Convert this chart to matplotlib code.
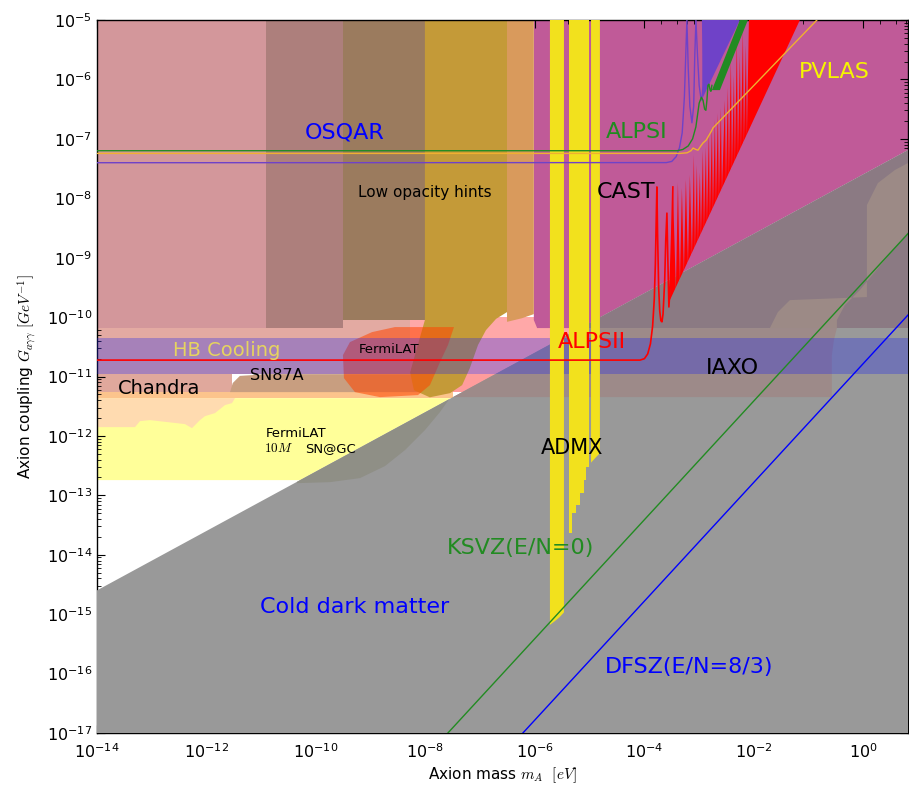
import numpy as np
import matplotlib
matplotlib.use('Agg')
import matplotlib.pyplot as plt
from matplotlib.ticker import FixedLocator, NullFormatter, LogLocator

plt.rcParams['mathtext.fontset'] = 'cm'

# all values are log10(mass/eV) and log10(g/GeV^-1)
X_MAX = 0.815

# cold dark matter line (upper edge of grey region)
cdm_lm = [-14.0, X_MAX]
cdm_lg = [-14.6, -7.19]

# QCD axion model lines
ksvz_lm = [-7.59, X_MAX]
ksvz_lg = [-17.0, -8.595]
dfsz_lm = [-6.22, X_MAX]
dfsz_lg = [-17.0, -9.965]

# left vertical bands (top area): lm_left, lm_right, lg_bottom, colour
left_bands = [
    (-14.0, -10.91, -10.185, '#d3979b'),
    (-10.91, -9.51, -10.185, '#ad7f7c'),
    (-9.51, -8.01, -10.05, '#9b7b5e'),
]
tan_lm = [-6.51, -6.02, -6.02, -6.24, -6.51]
tan_lg = [-5.0, -5.0, -9.95, -10.02, -10.08]
gold_lm = [-8.01, -6.51, -6.51, -6.71, -6.895, -7.04, -7.19, -7.33, -7.55, -7.92, -8.21, -8.28, -8.14, -8.01]
gold_lg = [-5.0, -5.0, -9.916, -10.03, -10.22, -10.47, -10.86, -11.145, -11.28, -11.35, -11.23, -10.93, -10.47, -10.05]

# CAST helioscope (magenta)
cast_lm = [-6.02, X_MAX, X_MAX, -5.17, -5.96, -6.02]
cast_lg = [-5.0, -5.0, -7.19, -10.185, -10.185, -10.05]

# horizontal bands: lm_left, lm_right, lg_top, lg_bottom, colour
hbands = [
    (-14.0, -8.28, -10.05, -10.96, '#e3aaa2'),
    (-8.28, X_MAX, -10.0, -10.96, '#ffa8a8'),
    (-14.0, -11.53, -10.96, -11.263, '#e0a89c'),
    (-7.74, X_MAX, -10.96, -11.263, '#ff9c9c'),
    (-14.0, -7.5, -11.263, -11.364, '#fcc48c'),
]
sn87a_lm = [-11.57, -11.52, -11.39, -11.17, -10.93, -7.74, -7.74]
sn87a_lg = [-11.263, -11.11, -10.99, -10.977, -10.96, -10.96, -11.263]

# FermiLAT SN@GC (yellow) and its peach neighbour
sngc_lg = [-11.364, -12.744]
peach_lm = [-14.0, -11.479, -11.534, -11.662, -11.845, -12.027, -12.119, -12.265, -12.393, -13.032, -13.215, -13.306, -14.0]
peach_lg = [-11.364, -11.364, -11.448, -11.481, -11.616, -11.667, -11.734, -11.869, -11.801, -11.734, -11.751, -11.852, -11.852]

# FermiLAT blob
blob_lm = [-8.977, -8.557, -7.479, -7.589, -7.735, -7.918, -8.137, -8.831, -9.288, -9.489, -9.507, -9.379]
blob_lg = [-10.253, -10.168, -10.168, -10.471, -10.758, -11.145, -11.313, -11.347, -11.263, -11.027, -10.64, -10.421]

# tints seen on top of the grey region
brown_lm = [-14.0, -0.484, -0.539, -0.576, -0.576, -14.0]
brown_lg = [-10.185, -10.185, -10.387, -10.64, -11.347, -11.347]
r2_lm = [-1.708, -1.562, -1.342, 0.064, 0.064, 0.265, 0.575, X_MAX, X_MAX, -0.064, -0.338, -0.484, -0.484]
r2_lg = [-10.185, -9.916, -9.714, -9.663, -8.114, -7.744, -7.525, -7.407, -8.569, -9.545, -9.798, -10.05, -10.185]
shade_lm = [-10.347, -9.744, -9.196, -8.74, -8.374, -8.009, -7.735, -7.553, -10.347]
shade_lg = [-12.795, -12.778, -12.71, -12.508, -12.239, -11.902, -11.599, -11.364, -11.364]

# IAXO band
iaxo_lg = [-10.354, -10.96]

# ADMX haloscope strips
admx1_lm = [-5.726, -5.47, -5.47, -5.55, -5.64, -5.726]
admx1_lg = [-5.0, -5.0, -14.97, -15.05, -15.12, -15.18]
admx2_lm = [-5.379, -5.014, -5.014, -5.06, -5.06, -5.11, -5.11, -5.18, -5.18, -5.25, -5.25, -5.32, -5.32, -5.379]
admx2_lg = [-5.0, -5.0, -12.525, -12.525, -12.744, -12.744, -12.963, -12.963, -13.165, -13.165, -13.30, -13.30, -13.636, -13.636]
admx3_lm = [-4.975, -4.813, -4.813, -4.90, -4.975]
admx3_lg = [-5.0, -5.0, -12.29, -12.374, -12.45]

# ALPSII line running into the first CAST oscillations
alps2_lm = [-14, -4.08, -4.00, -3.94, -3.89, -3.85, -3.82, -3.80, -3.785, -3.772, -3.76, -3.74, -3.72,
            -3.70, -3.68, -3.66, -3.63, -3.61, -3.589, -3.575, -3.553, -3.53, -3.50, -3.48]
alps2_lg = [-10.724, -10.724, -10.70, -10.62, -10.45, -10.15, -9.7, -9.1, -8.4, -7.81, -8.6, -9.5, -9.9,
            -10.06, -10.08, -9.95, -9.4, -8.7, -8.25, -8.9, -9.83, -9.5, -8.6, -7.81]

# CAST vacuum oscillation region (red)
castosc_lm = [-3.480, -3.425, -3.388, -3.352, -3.315, -3.279, -3.242, -3.205, -3.169, -3.132, -3.096, -3.078,
              -3.041, -3.023, -2.986, -2.968, -2.932, -2.913, -2.877, -2.858, -2.822, -2.804, -2.767, -2.749,
              -2.712, -2.694, -2.658, -2.639, -2.603, -2.584, -2.530, -2.511, -2.475, -2.457, -2.420, -2.402,
              -2.365, -2.347, -2.311, -2.292, -2.256, -2.237, -2.201, -2.183, -2.146, -2.128, -2.091, -1.160, -3.534]
castosc_lg = [-7.81, -9.55, -7.74, -9.41, -7.83, -9.26, -7.69, -9.12, -7.61, -8.97, -7.27, -8.87,
              -7.44, -8.75, -7.56, -8.65, -7.19, -8.54, -7.14, -8.43, -6.90, -8.32, -6.80, -8.22,
              -6.68, -8.10, -6.57, -8.00, -6.48, -7.88, -6.35, -7.74, -6.14, -7.63, -5.67, -7.53,
              -5.93, -7.41, -5.34, -7.31, -5.59, -7.19, -5.17, -7.09, -5.42, -6.97, -5.0, -5.0, -9.714]

# OSQAR
osqar_lm = [-14, -3.60, -3.50, -3.42, -3.36, -3.31, -3.27, -3.245, -3.224, -3.20, -3.17, -3.132, -3.10,
            -3.08, -3.059, -3.03, -3.00, -2.97, -2.95, -2.93, -2.915]
osqar_lg = [-7.402, -7.40, -7.38, -7.30, -7.15, -6.90, -6.3, -5.6, -5.0, -5.8, -6.45, -6.73, -6.45,
            -5.6, -5.0, -5.6, -6.1, -6.3, -6.35, -6.1, -5.0]
osqar_fill_lm = [-2.95, -2.93, -2.256]
osqar_fill_lg = [-5.0, -6.30, -5.0]

# ALPSI
alps1_lm = [-14, -3.40, -3.30, -3.20, -3.12, -3.06, -3.03, -3.00, -2.96, -2.93, -2.90, -2.877, -2.858,
            -2.84, -2.822, -2.80, -2.785, -2.767]
alps1_lg = [-7.20, -7.20, -7.18, -7.12, -7.00, -6.80, -6.60, -6.40, -6.30, -6.35, -6.50, -6.52, -6.35,
            -6.10, -6.08, -6.18, -6.20, -6.10]
alps1_fill_lm = [-2.767, -2.256, -2.110, -2.621]
alps1_fill_lg = [-6.18, -5.0, -5.0, -6.18]

# PVLAS
pvlas_lm = [-14, -3.35, -3.22, -3.15, -3.11, -3.06, -3.02, -2.97, -2.93, -2.87, -2.82, -2.77, -2.749, -0.849]
pvlas_lg = [-7.245, -7.245, -7.235, -7.20, -7.155, -7.18, -7.19, -7.12, -7.07, -7.02, -6.94, -6.86, -6.818, -5.0]

# labels: text, lm, lg, size, colour
labels = [
    ('OSQAR', -9.47, -6.886, 16, '#0000ff'),
    ('ALPSI', -4.137, -6.886, 16, '#1f8b1f'),
    ('PVLAS', -0.539, -5.875, 16, '#f5f500'),
    ('CAST', -4.338, -7.896, 16, 'black'),
    ('Low opacity hints', -8.01, -7.91, 11, 'black'),
    ('HB Cooling', -11.63, -10.556, 14, '#e6d45f'),
    ('FermiLAT', -8.667, -10.54, 9.5, 'black'),
    ('ALPSII', -4.959, -10.42, 16, '#ff0000'),
    ('SN87A', -10.71, -10.976, 11.5, 'black'),
    ('Chandra', -12.87, -11.195, 14, 'black'),
    ('IAXO', -2.383, -10.859, 16, 'black'),
    ('FermiLAT', -10.37, -11.953, 9.5, 'black'),
    ('$10M$', -10.69, -12.205, 9.5, 'black'),
    ('SN@GC', -9.74, -12.205, 9.5, 'black'),
    ('ADMX', -5.324, -12.205, 15, 'black'),
    ('KSVZ(E/N=0)', -6.256, -13.889, 16, '#228b22'),
    ('Cold dark matter', -9.288, -14.88, 16, '#0000ff'),
    ('DFSZ(E/N=8/3)', -3.187, -15.89, 16, '#0000ff'),
]


def pw(v):
    return 10.0 ** np.asarray(v, dtype=float)


fig = plt.figure(figsize=(9.09, 7.93), dpi=100)
ax = fig.add_axes([97 / 909, 1 - 733 / 793, 811 / 909, 713 / 793])
ax.set_xscale('log')
ax.set_yscale('log')


def region(lm, lg, color, z, alpha=1.0, clip=None):
    p = ax.fill(pw(lm), pw(lg), color=color, lw=0, zorder=z, alpha=alpha)[0]
    if clip is not None:
        p.set_clip_path(clip)
    return p


def rect(l0, l1, g0, g1, color, z, alpha=1.0, clip=None):
    return region([l0, l1, l1, l0], [g0, g0, g1, g1], color, z, alpha, clip)


# yellow SN@GC bounded by the CDM line
slope = (cdm_lg[1] - cdm_lg[0]) / (cdm_lm[1] - cdm_lm[0])
x_top = cdm_lm[0] + (sngc_lg[0] - cdm_lg[0]) / slope
x_bot = cdm_lm[0] + (sngc_lg[1] - cdm_lg[0]) / slope
region([-14, x_top, x_bot, -14], [sngc_lg[0], sngc_lg[0], sngc_lg[1], sngc_lg[1]], '#ffff99', 1.0)
region(peach_lm, peach_lg, '#ffdbb0', 1.1)

for l0, l1, g0, g1, c in hbands:
    rect(l0, l1, g0, g1, c, 1.2)
region(sn87a_lm, sn87a_lg, '#c89e80', 1.3)

region(cast_lm, cast_lg, '#c05a98', 1.5)
for l0, l1, gb, c in left_bands:
    rect(l0, l1, -5.0, gb, c, 2.0)
region(tan_lm, tan_lg, '#d99a5c', 2.0)
region(gold_lm, gold_lg, '#c49a38', 2.1)
region(blob_lm, blob_lg, '#ff4500', 2.2, alpha=0.55)

# cold dark matter
grey = region([cdm_lm[0], cdm_lm[1], cdm_lm[1], cdm_lm[0]], [cdm_lg[0], cdm_lg[1], -17.5, -17.5], '#999999', 3.0)
rect(-14, X_MAX, -5.0, -10.185, '#8b7a83', 3.1, clip=grey)
region(brown_lm, brown_lg, '#9d8a89', 3.1, clip=grey)
region(r2_lm, r2_lg, '#9c8a86', 3.2, clip=grey)
region(shade_lm, shade_lg, '#8f8f86', 3.2, clip=grey)

# IAXO band
rect(-14, X_MAX, iaxo_lg[0], iaxo_lg[1], '#1b23f0', 3.5, alpha=0.3)

for lm, lg in [(admx1_lm, admx1_lg), (admx2_lm, admx2_lg), (admx3_lm, admx3_lg)]:
    region(lm, lg, '#f2e11d', 4.0)

ax.plot(pw(ksvz_lm), pw(ksvz_lg), color='#228b22', lw=1.0, zorder=4.5)
ax.plot(pw(dfsz_lm), pw(dfsz_lg), color='#0000ff', lw=1.0, zorder=4.5)

region(castosc_lm, castosc_lg, '#ff0000', 5.0)
ax.plot(pw(alps2_lm), pw(alps2_lg), color='#ff0000', lw=1.2, zorder=5.0)

region(osqar_fill_lm, osqar_fill_lg, '#6f42c8', 5.1)
ax.plot(pw(osqar_lm), pw(osqar_lg), color='#6f42c8', lw=1.0, zorder=5.1)
region(alps1_fill_lm, alps1_fill_lg, '#228b22', 5.2)
ax.plot(pw(alps1_lm), pw(alps1_lg), color='#228b22', lw=1.0, zorder=5.2)
ax.plot(pw(pvlas_lm), pw(pvlas_lg), color='#f0b030', lw=1.0, zorder=5.5)

for s, lm, lg, fs, c in labels:
    ax.text(10 ** lm, 10 ** lg, s, ha='center', va='center', fontsize=fs, color=c, zorder=6)

ax.set_xlim(1e-14, 10 ** X_MAX)
ax.set_ylim(1e-17, 1e-5)

ax.xaxis.set_major_locator(FixedLocator(10.0 ** np.arange(-14, 1, 2)))
ax.xaxis.set_minor_locator(FixedLocator([s * 10.0 ** k for k in range(-14, 1, 2) for s in (2, 4, 6, 8)]))
ax.xaxis.set_minor_formatter(NullFormatter())
ax.yaxis.set_major_locator(FixedLocator(10.0 ** np.arange(-17, -4)))
ax.yaxis.set_minor_locator(LogLocator(base=10, subs=np.arange(2, 10), numticks=30))
ax.yaxis.set_minor_formatter(NullFormatter())
ax.tick_params(which='both', direction='in', top=True, right=True, labelsize=11.5)
ax.tick_params(which='major', length=5.5, width=0.8)
ax.tick_params(which='minor', length=2.8, width=0.6)
ax.tick_params(axis='x', which='major', pad=7)
for sp in ax.spines.values():
    sp.set_linewidth(1.0)

ax.set_xlabel(r'Axion mass $m_A\ \ [eV]$', fontsize=11, labelpad=3)
ax.set_ylabel(r'Axion coupling $G_{a\gamma\gamma}\ [GeV^{-1}]$', fontsize=11, labelpad=6)

fig.savefig('out.png', dpi=100)
